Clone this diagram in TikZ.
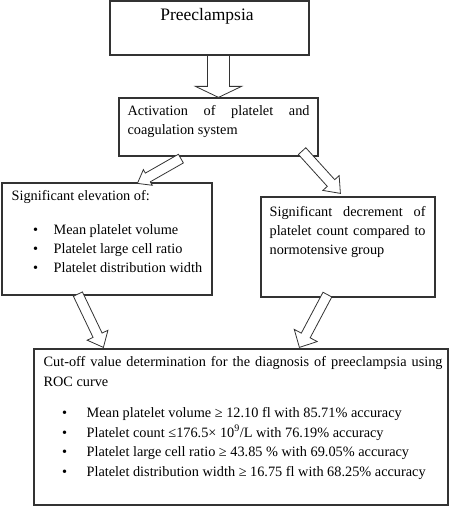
\documentclass[tikz,border=0pt]{standalone}
\usepackage{fontspec}
\setmainfont{Liberation Serif}
\usetikzlibrary{positioning}
\usetikzlibrary{calc}
\hyphenpenalty=10000
\exhyphenpenalty=10000
\tolerance=10000
\tikzset{flowbox/.style={draw=black!80, line width=1.2pt, inner sep=0pt}}
\tikzset{flowtext/.style={inner sep=0pt, anchor=north west, align=justify, font=\fontsize{14.3}{19}\selectfont}}
\tikzset{hollowarrow/.style={draw=black!80, line width=0.8pt, fill=white, line join=miter}}
% #1 tail, #2 tip, #3 half shaft, #4 half head, #5 head length
\newcommand{\blockarrow}[5]{%
\draw[hollowarrow] ($(#1)!#3!90:(#2)$) -- ($(#2)!#5!(#1)!#3!90:(#2)$) -- ($(#2)!#5!(#1)!#4!90:(#2)$) -- (#2) -- ($(#2)!#5!(#1)!#4!-90:(#2)$) -- ($(#2)!#5!(#1)!#3!-90:(#2)$) -- ($(#1)!#3!-90:(#2)$) -- cycle;}
\newcommand{\bulletrow}[3]{\noindent\hspace*{#1}\makebox[#2][l]{\textbullet}#3\par}

\begin{document}
\begin{tikzpicture}[x=1pt, y=-1pt]
\useasboundingbox (0,0) rectangle (451,508);

\node[flowbox, minimum width=199pt, minimum height=54pt] (preec) at (209.5, 28) {};
\node[flowbox, minimum width=199pt, minimum height=58pt] (act) at (218.5, 127) {};
\node[flowbox, minimum width=210pt, minimum height=112pt] (elev) at (107, 239) {};
\node[flowbox, minimum width=174pt, minimum height=100pt] (decr) at (348, 247) {};
\node[flowbox, minimum width=414pt, minimum height=156pt] (roc) at (241, 427) {};

\node[font=\fontsize{17.5}{21}\selectfont, anchor=base, inner sep=0pt] (preecT) at ($(preec.north)+(-2.5,20)$) {Preeclampsia};

\node[flowtext, text width=182pt] (actT) at ($(act.north west)+(9,7.5)$) {Activation of platelet and coagulation system};

\node[flowtext, text width=195pt] (elevT) at ($(elev.north west)+(10,8)$) {Significant elevation of:\par\vspace{15pt}
\bulletrow{21.5pt}{20.5pt}{Mean platelet volume}
\bulletrow{21.5pt}{20.5pt}{Platelet large cell ratio}
\bulletrow{21.5pt}{20.5pt}{Platelet distribution width}};

\node[flowtext, text width=156pt] (decrT) at ($(decr.north west)+(9,10)$) {Significant decrement of platelet count compared to normotensive group};

\node[flowtext, text width=399pt, font=\fontsize{14.3}{19.5}\selectfont] (rocT) at ($(roc.north west)+(10,8)$) {Cut-off value determination for the diagnosis of preeclampsia using ROC curve\par\vspace{12pt}
\bulletrow{18.5pt}{24.5pt}{Mean platelet volume ≥ 12.10 fl with 85.71\% accuracy}
\bulletrow{18.5pt}{24.5pt}{Platelet count ≤176.5× 10\textsuperscript{9}/L with 76.19\% accuracy}
\bulletrow{18.5pt}{24.5pt}{Platelet large cell ratio ≥ 43.85 \% with 69.05\% accuracy}
\bulletrow{18.5pt}{24.5pt}{Platelet distribution width ≥ 16.75 fl with 68.25\% accuracy}};

% arrows
\coordinate (topTail) at (act.north |- preec.south);
\coordinate (leftTail) at ($(act.south west)+(62.5,2)$);
\coordinate (leftTip) at ($(elev.north west)+(136,1)$);
\coordinate (rightTail) at ($(act.south east)+(-16.5,-5.5)$);
\coordinate (rightTip) at ($(decr.north west)+(80,-3)$);
\coordinate (elevTail) at ($(elev.south west)+(76.5,-1.5)$);
\coordinate (elevTip) at ($(roc.north west)+(70,-1)$);
\coordinate (decrTail) at ($(decr.south west)+(67,-3)$);
\coordinate (decrTip) at ($(roc.north west)+(266,-1)$);

\blockarrow{topTail}{act.north}{11pt}{23pt}{11pt}
\blockarrow{leftTail}{leftTip}{5pt}{9pt}{12pt}
\blockarrow{rightTail}{rightTip}{5pt}{11pt}{14pt}
\blockarrow{elevTail}{elevTip}{5pt}{11.5pt}{13.5pt}
\blockarrow{decrTail}{decrTip}{5pt}{13pt}{13.5pt}

\end{tikzpicture}
\end{document}
